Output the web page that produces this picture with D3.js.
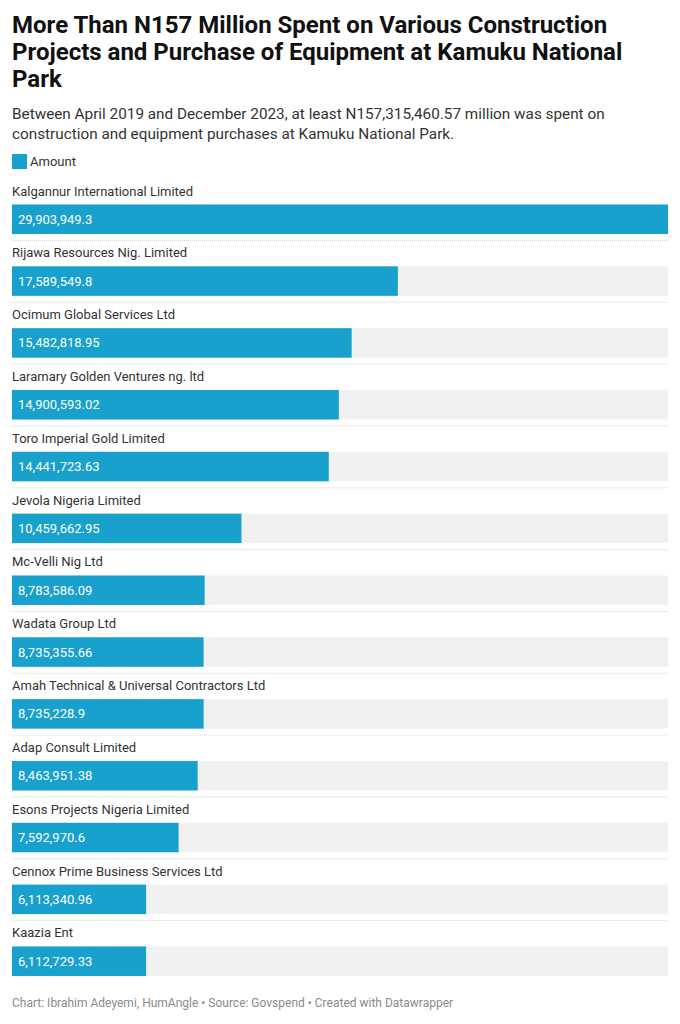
<!DOCTYPE html>
<html>
<head>
<meta charset="utf-8">
<script src="https://cdn.jsdelivr.net/npm/d3@7"></script>
<style>
  body { margin: 0; background: #fff; font-family: Roboto, sans-serif; }
</style>
</head>
<body>
<div id="chart"></div>
<script>
// Data
const companies = [
  'Kalgannur International Limited',
  'Rijawa Resources Nig. Limited',
  'Ocimum Global Services Ltd',
  'Laramary Golden Ventures ng. ltd',
  'Toro Imperial Gold Limited',
  'Jevola Nigeria Limited',
  'Mc-Velli Nig Ltd',
  'Wadata Group Ltd',
  'Amah Technical & Universal Contractors Ltd',
  'Adap Consult Limited',
  'Esons Projects Nigeria Limited',
  'Cennox Prime Business Services Ltd',
  'Kaazia Ent'
];
const amounts = [
  29903949.3, 17589549.8, 15482818.95, 14900593.02, 14441723.63,
  10459662.95, 8783586.09, 8735355.66, 8735228.9, 8463951.38,
  7592970.6, 6113340.96, 6112729.33
];
const amountLabels = [
  '29,903,949.3', '17,589,549.8', '15,482,818.95', '14,900,593.02', '14,441,723.63',
  '10,459,662.95', '8,783,586.09', '8,735,355.66', '8,735,228.9', '8,463,951.38',
  '7,592,970.6', '6,113,340.96', '6,112,729.33'
];
const titleLines = [
  'More Than N157 Million Spent on Various Construction',
  'Projects and Purchase of Equipment at Kamuku National',
  'Park'
];
const subtitleLines = [
  'Between April 2019 and December 2023, at least N157,315,460.57 million was spent on',
  'construction and equipment purchases at Kamuku National Park.'
];
const seriesName = 'Amount';
const footer = 'Chart: Ibrahim Adeyemi, HumAngle \u2022 Source: Govspend \u2022 Created with Datawrapper';

const W = 680, H = 1024;
const left = 12, right = 668;
const blue = '#18a1cd';

const svg = d3.select('#chart').append('svg')
  .attr('width', W)
  .attr('height', H)
  .style('font-family', 'Roboto, sans-serif');

// Title
svg.append('g').selectAll('text')
  .data(titleLines)
  .enter()
  .append('text')
  .attr('x', left)
  .attr('y', (d, i) => 32.5 + i * 27.2)
  .style('font-size', '24px')
  .style('font-weight', 700)
  .style('fill', '#111')
  .text(d => d);

// Subtitle
svg.append('g').selectAll('text')
  .data(subtitleLines)
  .enter()
  .append('text')
  .attr('x', left)
  .attr('y', (d, i) => 119 + i * 19.5)
  .style('font-size', '15.3px')
  .style('fill', '#333')
  .text(d => d);

// Legend
svg.append('rect')
  .attr('x', left)
  .attr('y', 154)
  .attr('width', 15)
  .attr('height', 15)
  .style('fill', blue);
svg.append('text')
  .attr('x', 30)
  .attr('y', 166)
  .style('font-size', '13px')
  .style('fill', '#333')
  .text(seriesName);

// Scales
const rows = d3.scaleBand()
  .domain(companies)
  .range([179.5, 179.5 + companies.length * 61.83]);

const x = d3.scaleLinear()
  .domain([0, d3.max(amounts)])
  .range([left, right]);

const row = svg.selectAll('.row')
  .data(companies.map((c, i) => ({ name: c, value: amounts[i], label: amountLabels[i], i: i })))
  .enter()
  .append('g')
  .attr('class', 'row')
  .attr('transform', d => `translate(0, ${rows(d.name)})`);

// Company label
row.append('text')
  .attr('x', left)
  .attr('y', 16)
  .style('font-size', '13px')
  .style('fill', '#333')
  .text(d => d.name);

// Background track
row.append('rect')
  .attr('x', left)
  .attr('y', 25)
  .attr('width', right - left)
  .attr('height', 29.5)
  .style('fill', '#f1f1f1');

// Bar
row.append('rect')
  .attr('x', x(0))
  .attr('y', 25)
  .attr('width', d => x(d.value) - x(0))
  .attr('height', 29.5)
  .style('fill', blue);

// Value label
row.append('text')
  .attr('x', left + 6)
  .attr('y', 25 + 29.5 / 2)
  .attr('dy', '0.35em')
  .style('font-size', '13px')
  .style('fill', '#fff')
  .text(d => d.label);

// Dotted separators
row.filter(d => d.i < companies.length - 1)
  .append('line')
  .attr('x1', left)
  .attr('x2', right)
  .attr('y1', 61)
  .attr('y2', 61)
  .style('stroke', '#d4d4d4')
  .style('stroke-width', 1)
  .style('stroke-dasharray', '1,1');

// Footer
svg.append('text')
  .attr('x', left)
  .attr('y', 1007)
  .style('font-size', '12px')
  .style('fill', '#8a8a8a')
  .text(footer);
</script>
</body>
</html>
